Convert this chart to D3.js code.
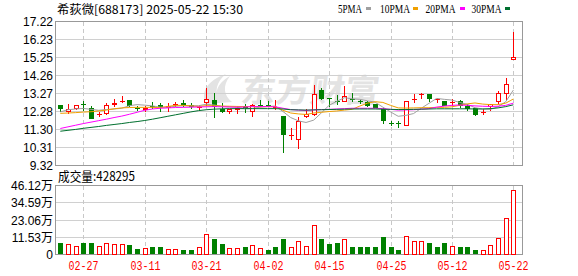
<!DOCTYPE html>
<html><head><meta charset="utf-8">
<script src="https://cdn.jsdelivr.net/npm/d3@7/dist/d3.min.js"></script>
<style>html,body{margin:0;padding:0;background:#fff}svg{display:block}</style>
</head><body>
<svg id="c" width="578" height="276"></svg>
<script>
const dates=["02-24","02-25","02-26","02-27","02-28","03-03","03-04","03-05","03-06","03-07",
"03-10","03-11","03-12","03-13","03-14","03-17","03-18","03-19","03-20","03-21",
"03-24","03-25","03-26","03-27","03-28","03-31","04-01","04-02","04-03","04-07",
"04-08","04-09","04-10","04-11","04-14","04-15","04-16","04-17","04-18","04-21",
"04-22","04-23","04-24","04-25","04-28","04-29","04-30","05-06","05-07","05-08",
"05-09","05-12","05-13","05-14","05-15","05-16","05-19","05-20","05-21","05-22"];
const open=[12.63,12.23,12.41,12.69,12.45,12.10,12.12,12.62,12.83,12.91,
12.50,12.37,12.60,12.65,12.45,12.66,12.76,12.65,12.45,12.73,
12.91,12.40,12.23,12.36,12.57,12.27,12.65,12.64,12.50,12.04,
10.94,10.74,11.99,12.10,13.46,13.04,12.87,12.78,12.98,12.88,
12.79,12.69,12.42,11.67,11.63,11.51,12.93,13.19,13.24,12.90,
12.87,12.74,12.85,12.60,12.45,12.24,12.51,12.78,13.26,15.10];
const high=[12.63,12.69,12.63,12.87,12.56,12.26,12.74,12.95,13.13,12.91,
12.60,12.58,12.82,12.74,12.73,12.82,12.91,12.73,12.65,13.56,
13.31,12.73,12.43,12.60,12.69,12.69,12.91,12.87,12.93,12.05,
11.35,12.00,12.40,13.74,13.55,13.05,13.17,13.69,13.30,12.92,
12.86,12.72,12.45,11.77,11.75,12.87,13.22,13.31,13.25,13.00,
12.88,12.95,12.91,12.71,12.45,12.40,12.70,13.43,14.14,16.65];
const low=[12.23,12.12,12.36,12.32,11.88,11.96,12.10,12.51,12.73,12.51,
12.32,12.26,12.40,12.23,12.27,12.54,12.54,12.43,12.36,12.57,
11.93,12.18,12.14,12.14,12.18,11.99,12.54,12.52,12.37,10.02,
10.70,10.24,11.95,12.03,12.90,12.51,12.62,12.78,12.82,12.72,
12.55,12.45,11.57,11.48,11.40,11.49,12.76,12.96,12.78,12.76,
12.58,12.58,12.45,12.33,12.03,12.11,12.30,12.69,12.85,15.10];
const close=[12.41,12.43,12.63,12.67,11.88,12.14,12.63,12.76,12.87,12.58,
12.47,12.49,12.56,12.51,12.58,12.70,12.63,12.54,12.54,12.98,
12.51,12.26,12.40,12.47,12.50,12.63,12.61,12.61,12.55,10.98,
10.98,11.75,12.12,13.24,12.97,13.02,12.85,13.13,12.94,12.80,
12.61,12.47,11.77,11.65,11.60,12.85,12.98,13.24,12.97,12.96,
12.61,12.78,12.58,12.40,12.08,12.28,12.67,13.28,13.78,15.27];
const volume=[80000,71000,58000,80000,80000,58000,78000,67000,71000,64000,
40000,44000,53000,53000,38000,38000,33000,33000,47000,138000,
106000,67000,44000,44000,47000,64000,44000,33000,53000,106000,
51000,93000,58000,198000,106000,73000,80000,104000,53000,47000,
47000,53000,120000,53000,33000,124000,87000,93000,80000,47000,
80000,58000,47000,53000,33000,31000,64000,113000,244000,428295];
const volUp=[0,1,1,0,0,1,1,1,1,0, 0,1,0,0,1,1,0,0,1,1, 0,0,1,1,0,1,1,0,0,0,
1,1,1,1,0,0,0,1,0,0, 0,0,0,0,0,1,1,1,0,0, 0,1,0,0,0,1,1,1,1,1];
const ma5=[12.26,12.38,12.42,12.45,12.40,12.35,12.39,12.42,12.46,12.60,
12.66,12.63,12.59,12.52,12.52,12.57,12.60,12.59,12.60,12.68,
12.64,12.57,12.54,12.52,12.43,12.45,12.52,12.56,12.58,12.28,
11.95,11.77,11.68,11.81,12.21,12.62,12.84,13.04,12.98,12.95,
12.87,12.79,12.52,12.26,12.02,12.07,12.17,12.46,12.73,13.00,
12.95,12.91,12.78,12.67,12.49,12.42,12.40,12.54,12.82,13.46];
const ma10=[12.18,12.20,12.22,12.25,12.27,12.31,12.36,12.43,12.48,12.50,
12.51,12.51,12.51,12.49,12.56,12.62,12.62,12.59,12.56,12.60,
12.60,12.58,12.57,12.56,12.55,12.55,12.54,12.55,12.55,12.35,
12.20,12.15,12.12,12.20,12.24,12.28,12.31,12.36,12.40,12.58,
12.74,12.82,12.78,12.62,12.48,12.47,12.48,12.49,12.49,12.51,
12.51,12.54,12.62,12.70,12.75,12.69,12.66,12.66,12.74,12.97];
const ma20=[11.35,11.44,11.53,11.62,11.70,11.78,11.86,11.95,12.03,12.13,
12.24,12.35,12.42,12.46,12.48,12.50,12.51,12.52,12.53,12.54,
12.55,12.54,12.53,12.52,12.53,12.55,12.55,12.55,12.54,12.46,
12.39,12.36,12.34,12.37,12.39,12.40,12.42,12.44,12.46,12.46,
12.46,12.46,12.44,12.40,12.36,12.37,12.38,12.41,12.44,12.52,
12.58,12.62,12.64,12.62,12.59,12.57,12.56,12.57,12.62,12.74];
const ma30=[11.20,11.25,11.30,11.36,11.41,11.46,11.52,11.57,11.62,11.68,
11.73,11.79,11.86,11.94,12.02,12.10,12.18,12.26,12.33,12.38,
12.41,12.43,12.44,12.44,12.44,12.44,12.44,12.44,12.44,12.42,
12.38,12.37,12.36,12.37,12.38,12.39,12.40,12.41,12.42,12.42,
12.42,12.42,12.41,12.40,12.39,12.39,12.40,12.41,12.42,12.43,
12.43,12.43,12.43,12.43,12.42,12.42,12.44,12.48,12.55,12.65];
const priceTicks=[17.22,16.23,15.25,14.26,13.27,12.28,11.30,10.31,9.32];
const priceTickLabels=["17.22","16.23","15.25","14.26","13.27","12.28","11.30","10.31","9.32"];
const volTicks=[0,115300,230600,345900,461200];
const volTickLabels=["0","11.53万","23.06万","34.59万","46.12万"];
const xTicks=["02-27","03-11","03-21","04-02","04-15","04-25","05-12","05-22"];
const maNames=["5PMA","10PMA","20PMA","30PMA"];
const maColors=["#a0a0a0","#f0a000","#ff00ff","#006f2e"];
const title="希荻微[688173] 2025-05-22 15:30";
const volTitle="成交量:428295";

const svg=d3.select("#c");
const L=55.5,R=522.5,T=21.5,B=165.5,VT=185.5,VB=254.5;
const x=d3.scalePoint().domain(dates).range([60.3,513.4]);
const y=d3.scaleLinear().domain([9.32,17.22]).range([B,T]);
const yv=d3.scaleLinear().domain([0,461200]).range([VB,VT]);
const cx=d=>Math.round(x(d))+0.5;
const RED="#ff0000",GREEN="#008000";

// watermark
const wm=svg.append("g").attr("fill","#e3e3e3");
wm.append("path").attr("d","M206,104 C200,92 208,80 226,74 C216,82 214,92 220,100 C214,94 216,84 230,76 C222,86 224,96 232,102 Z");
wm.append("text").attr("x",240).attr("y",102).attr("font-family","Noto Sans CJK SC").attr("font-weight","bold")
  .attr("font-size",32).attr("textLength",138).attr("lengthAdjust","spacingAndGlyphs").attr("transform","skewX(-8) translate(14,0)").text("东方财富");

// grids
const g=svg.append("g").attr("shape-rendering","crispEdges");
g.selectAll(".hg").data(priceTicks).join("line").attr("x1",L).attr("x2",R)
 .attr("y1",d=>Math.round(y(d)-0.5)+0.5).attr("y2",d=>Math.round(y(d)-0.5)+0.5).attr("stroke","#d0d0d0");
g.selectAll(".hv").data(volTicks).join("line").attr("x1",L).attr("x2",R)
 .attr("y1",d=>Math.round(yv(d)-0.5)+0.5).attr("y2",d=>Math.round(yv(d)-0.5)+0.5).attr("stroke","#d0d0d0");
xTicks.forEach(d=>{
  [[T,B],[VT,VB]].forEach(([a,b])=>{
    g.append("line").attr("x1",cx(d)).attr("x2",cx(d)).attr("y1",a).attr("y2",b)
     .attr("stroke","#c8c8c8").attr("stroke-dasharray","4,3");
  });
});
g.append("rect").attr("x",L).attr("y",T).attr("width",R-L).attr("height",B-T).attr("fill","none").attr("stroke","#999");
g.append("rect").attr("x",L).attr("y",VT).attr("width",R-L).attr("height",VB-VT).attr("fill","none").attr("stroke","#999");

// axis labels
const font="'Liberation Sans',Arial,sans-serif";
svg.selectAll(".pl").data(priceTicks).join("text").attr("x",53).attr("y",d=>y(d)+4.5)
 .attr("text-anchor","end").attr("font-family",font).attr("font-size",12).attr("fill","#000").text((d,i)=>priceTickLabels[i]);
svg.selectAll(".vl").data(volTicks).join("text").attr("x",53).attr("y",d=>yv(d)+4.5)
 .attr("text-anchor","end").attr("font-family","'Liberation Sans','Noto Sans CJK SC',sans-serif").attr("font-size",12).attr("fill","#000").text((d,i)=>volTickLabels[i]);
svg.selectAll(".xl").data(xTicks).join("text").attr("x",d=>cx(d)).attr("y",270)
 .attr("text-anchor","middle").attr("font-family","'Liberation Mono',monospace").attr("font-size",12)
 .attr("textLength",30).attr("lengthAdjust","spacingAndGlyphs").attr("fill",RED).text(d=>d);

// title & legend
svg.append("text").attr("x",57).attr("y",13.5).attr("font-family","'Noto Sans CJK SC',sans-serif").attr("font-size",12)
 .attr("textLength",186).attr("lengthAdjust","spacingAndGlyphs").attr("fill","#000").text(title);
const legX=[338,380,425.5,471.5],legW=[24,30,30,30],sqX=[366,413,460,505];
maNames.forEach((n,i)=>{
  svg.append("text").attr("x",legX[i]).attr("y",13).attr("font-family","'Liberation Serif',serif").attr("font-size",12)
   .attr("textLength",legW[i]).attr("lengthAdjust","spacingAndGlyphs").attr("fill","#000").text(n);
  svg.append("rect").attr("x",sqX[i]).attr("y",7).attr("width",5).attr("height",3).attr("fill",maColors[i]);
});
svg.append("text").attr("x",58).attr("y",181).attr("font-family","'Noto Sans CJK SC',sans-serif").attr("font-size",13)
 .attr("textLength",77).attr("lengthAdjust","spacingAndGlyphs").attr("fill","#000").text(volTitle);

// candles
const idx=d3.range(dates.length);
const cg=svg.append("g").attr("shape-rendering","crispEdges");
idx.forEach(i=>{
  const up=close[i]>=open[i];
  const c=up?RED:GREEN;
  const X=cx(dates[i]);
  cg.append("line").attr("x1",X).attr("x2",X).attr("y1",Math.round(y(high[i])))
    .attr("y2",Math.round(y(low[i]))).attr("stroke",c);
  const top=Math.round(y(Math.max(open[i],close[i]))), bot=Math.round(y(Math.min(open[i],close[i])));
  if(up){
    if(bot-top<2){
      cg.append("line").attr("x1",X-2.5).attr("x2",X+2.5).attr("y1",top+0.5).attr("y2",top+0.5).attr("stroke",c).attr("stroke-width",1);
    } else {
      cg.append("rect").attr("x",X-2).attr("y",top+0.5).attr("width",4).attr("height",bot-top-1)
        .attr("fill","#fff").attr("stroke",c);
    }
  } else {
    cg.append("rect").attr("x",X-2.5).attr("y",top).attr("width",5).attr("height",Math.max(1,bot-top)).attr("fill",c);
  }
});

// volume
idx.forEach(i=>{
  const X=cx(dates[i]);
  const top=Math.round(yv(volume[i]));
  if(volUp[i]){
    cg.append("rect").attr("x",X-2).attr("y",top+0.5).attr("width",4).attr("height",Math.max(0,VB-0.5-top-0.5))
      .attr("fill","#fff").attr("stroke",RED);
  } else {
    cg.append("rect").attr("x",X-2.5).attr("y",top).attr("width",5).attr("height",VB-0.5-top).attr("fill",GREEN);
  }
});

// MA lines
const line=d3.line().x((v,i)=>x(dates[i])).y(v=>y(v));
[ma5,ma10,ma20,ma30].forEach((arr,k)=>{
  svg.append("path").attr("d",line(arr)).attr("fill","none").attr("stroke",maColors[k]).attr("stroke-width",1);
});
</script>
</body></html>
